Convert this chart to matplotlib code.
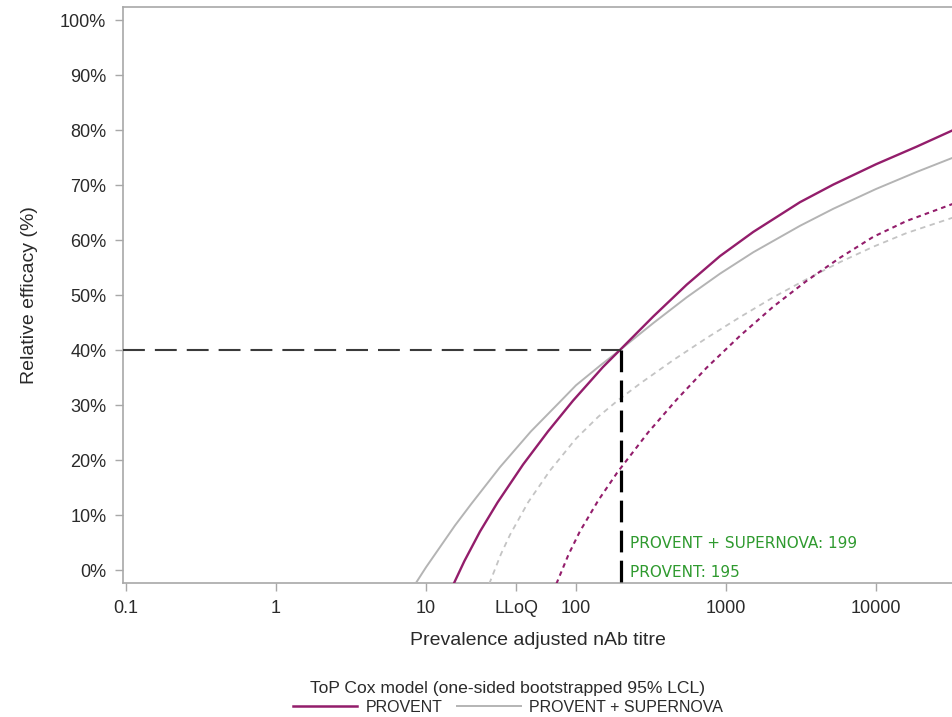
import matplotlib
matplotlib.use("Agg")
import matplotlib.pyplot as plt
from matplotlib.lines import Line2D
from matplotlib.ticker import FixedLocator, FixedFormatter, NullLocator

# ---- data ----
provent_titre = [15.3, 18.0, 22.9, 30.0, 44.4, 65.0, 95.5, 151, 196, 327, 547, 912, 1521, 3112, 5188, 10000, 18660, 32600]
provent_eff = [-2.5, 1.6, 7.0, 12.3, 19.2, 25.2, 30.8, 36.9, 40.0, 46.1, 51.9, 57.1, 61.5, 66.9, 70.1, 73.8, 77.0, 80.0]

combo_titre = [8.5, 10, 15.6, 20, 31.1, 50, 78.2, 100, 145, 196, 327, 547, 912, 1521, 3112, 5188, 10000, 18660, 32600]
combo_eff = [-2.5, 0.5, 8.1, 12.0, 18.7, 25.2, 30.6, 33.6, 37.2, 40.0, 44.9, 49.6, 53.9, 57.8, 62.6, 65.7, 69.3, 72.4, 75.0]

provent_lcl_titre = [74.0, 89.1, 106, 141, 188, 302, 469, 743, 1240, 2065, 3450, 5754, 9590, 16030, 32600]
provent_lcl_eff = [-2.5, 2.8, 7.0, 12.7, 17.7, 25.0, 31.0, 36.8, 42.6, 47.9, 52.6, 56.8, 60.6, 63.5, 66.6]

combo_lcl_titre = [26.4, 31.6, 36.3, 47.9, 67.1, 100, 141, 191, 267, 446, 743, 1240, 2065, 3450, 5754, 9590, 16030, 32600]
combo_lcl_eff = [-2.5, 2.9, 6.4, 12.3, 18.1, 23.9, 27.9, 30.9, 33.9, 38.2, 42.2, 46.0, 49.6, 52.9, 56.0, 58.8, 61.3, 64.1]

threshold_eff = 40
threshold_titre_combo = 199
threshold_titre_provent = 195

x_tick_values = [0.1, 1, 10, 40, 100, 1000, 10000]
x_tick_labels = ["0.1", "1", "10", "LLoQ", "100", "1000", "10000"]
y_tick_values = [0, 10, 20, 30, 40, 50, 60, 70, 80, 90, 100]
y_tick_labels = [f"{v}%" for v in y_tick_values]

series_names = ["PROVENT", "PROVENT + SUPERNOVA"]
legend_title = "ToP Cox model (one-sided bootstrapped 95% LCL)"

# ---- styling ----
PURPLE = "#931d6b"
GRAY = "#b4b4b4"
GRAY_LIGHT = "#c4c4c4"
GREEN = "#2f9a2f"
SPINE = "#a8a8a8"
TEXT = "#2a2a2a"

plt.rcParams["font.family"] = ["Liberation Sans", "DejaVu Sans"]

fig = plt.figure(figsize=(9.53, 7.17), dpi=100)
ax = fig.add_axes([123 / 953, 1 - 583 / 717, 1 - 123 / 953, (583 - 7) / 717])

ax.set_xscale("log")
ax.set_xlim(0.0955, 32600)
ax.set_ylim(-2.36, 102.4)

# curves
ax.plot(combo_titre, combo_eff, color=GRAY, lw=1.4, zorder=3)
ax.plot(provent_titre, provent_eff, color=PURPLE, lw=1.7, zorder=4)
ax.plot(combo_lcl_titre, combo_lcl_eff, color=GRAY_LIGHT, lw=1.3, dashes=(3, 2.5), zorder=3)
ax.plot(provent_lcl_titre, provent_lcl_eff, color=PURPLE, lw=1.5, dashes=(2.2, 2.0), zorder=4)

# reference lines
ax.plot([0.0955, threshold_titre_combo], [threshold_eff, threshold_eff],
        color="#3a3a3a", lw=1.5, dashes=(10.5, 4.8), zorder=5)
ax.plot([threshold_titre_combo, threshold_titre_combo], [threshold_eff, -2.36],
        color="black", lw=2.3, dashes=(6.8, 2.6), zorder=5)

ax.annotate(f"{series_names[1]}: {threshold_titre_combo}", xy=(threshold_titre_combo, 4.9),
            xytext=(9, 0), textcoords="offset pixels", ha="left", va="center",
            color=GREEN, fontsize=11, family=["DejaVu Sans"])
ax.annotate(f"{series_names[0]}: {threshold_titre_provent}", xy=(threshold_titre_combo, -0.5),
            xytext=(9, 0), textcoords="offset pixels", ha="left", va="center",
            color=GREEN, fontsize=11, family=["DejaVu Sans"])

# ticks
ax.xaxis.set_major_locator(FixedLocator(x_tick_values))
ax.xaxis.set_major_formatter(FixedFormatter(x_tick_labels))
ax.xaxis.set_minor_locator(NullLocator())
ax.yaxis.set_major_locator(FixedLocator(y_tick_values))
ax.yaxis.set_major_formatter(FixedFormatter(y_tick_labels))
ax.tick_params(axis="both", which="major", direction="out", length=6, width=1.0,
               color=SPINE, labelcolor=TEXT, labelsize=13)
ax.tick_params(axis="x", pad=6)
ax.tick_params(axis="y", pad=6)

for side in ["left", "bottom", "top"]:
    ax.spines[side].set_color(SPINE)
    ax.spines[side].set_linewidth(1.2)
ax.spines["right"].set_visible(False)

ax.set_xlabel("Prevalence adjusted nAb titre", fontsize=14, color=TEXT, labelpad=11)
ax.set_ylabel("Relative efficacy (%)", fontsize=14, color=TEXT, labelpad=16)

handles = [Line2D([], [], color=PURPLE, lw=1.8), Line2D([], [], color=GRAY, lw=1.4)]
leg = fig.legend(handles, series_names, loc="lower center", bbox_to_anchor=(0.533, -0.006),
                 ncol=2, frameon=False, title=legend_title, fontsize=11.5, title_fontsize=12.6,
                 handlelength=4.0, handletextpad=0.55, columnspacing=0.9, borderaxespad=0)
for t in leg.get_texts():
    t.set_color(TEXT)
leg.get_title().set_color(TEXT)
leg._legend_box.sep = 3

fig.savefig("out.png", dpi=100)
